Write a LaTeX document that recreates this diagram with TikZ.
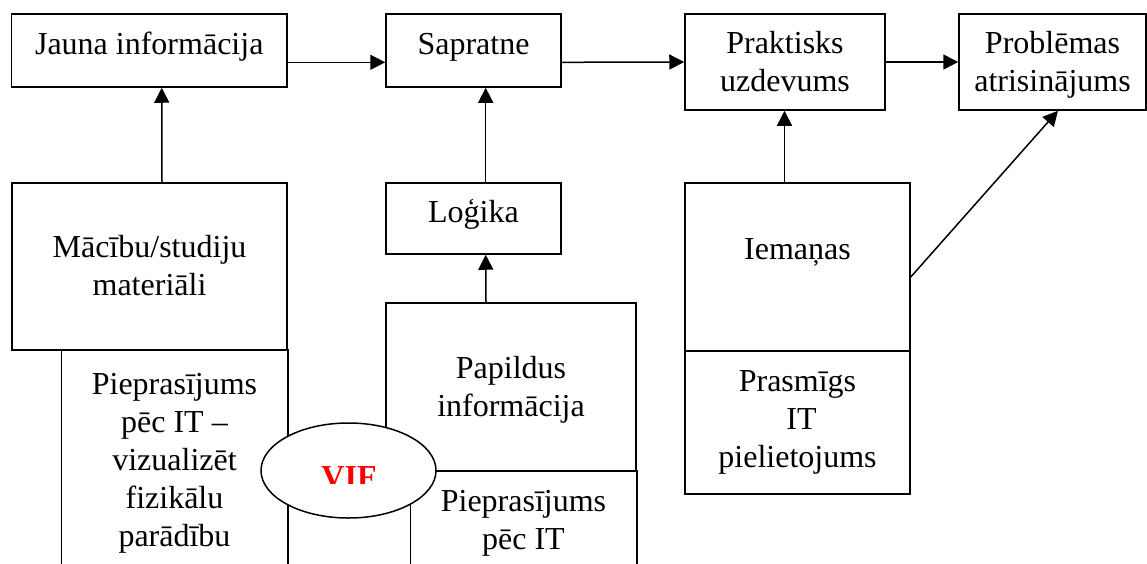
\documentclass[tikz,border=0pt]{standalone}
\usepackage{fontspec}
\setmainfont{Liberation Serif}
\usetikzlibrary{arrows.meta,shapes.geometric}
% invisible struts that fix the first line's height and the last line's depth
\newcommand\linetop{\rule{0pt}{30pt}}
\newcommand\linebot{\rule[-9.4pt]{0pt}{9.4pt}}
\begin{document}
\begin{tikzpicture}[x=1pt,y=-1pt,
  box/.style={draw, line width=1.5pt, inner sep=0pt, align=center,
              font=\fontsize{32}{38}\selectfont},
  openbox/.style={box, draw=none},
  oneline/.style={text height=22pt, text depth=14pt},
  edge/.style={line width=1.5pt},
  arr/.style={line width=1.5pt, -{Triangle[length=15pt,width=15pt]}},
  oval/.style={ellipse, draw, fill=white, line width=1.5pt, inner sep=0pt},
  tag/.style={inner sep=0pt, text=red, font=\fontsize{32}{38}\selectfont\bfseries}]

  \fill[white] (0,0) rectangle (1147,563);
  \useasboundingbox (0,0) rectangle (1147,563);

  % top row
  \node[box, oneline, minimum width=275.5pt, minimum height=73pt] (jauna) at (149.25,50.5) {Jauna informācija};
  \node[box, oneline, minimum width=175pt, minimum height=73pt] (sapr) at (473.5,50.5) {Sapratne};
  \node[box, minimum width=200pt, minimum height=96pt] (prakt) at (785,62) {\linetop Praktisks\\uzdevums\linebot};
  \node[box, minimum width=187pt, minimum height=96pt] (probl) at (1052.5,62) {\linetop Problēmas\\atrisinājums\linebot};

  % left column
  \node[box, minimum width=275pt, minimum height=167pt] (macibu) at (149.5,266.5) {\linetop Mācību/studiju\\materiāli\linebot};
  \node[openbox, minimum width=225pt, minimum height=227pt] (piepA) at (174.5,463.5)
    {Pieprasījums\\pēc IT –\\vizualizēt\\fizikālu\\parādību};

  % middle column
  \node[box, oneline, minimum width=175pt, minimum height=71pt] (logika) at (473.5,218.5) {Loģika};
  \node[box, minimum width=250pt, minimum height=168pt] (papild) at (511,387) {\linetop Papildus\\informācija\linebot};
  \node[openbox, minimum width=225pt, minimum height=105pt] (piepB) at (523.5,523.5) {Pieprasījums\\pēc IT};

  % right column
  \node[box, text height=22pt, text depth=38pt, minimum width=225pt, minimum height=168pt] (iem) at (797.5,267) {Iemaņas};
  \node[box, minimum width=225pt, minimum height=143pt] (prasm) at (797.5,422.5) {Prasmīgs\\\ IT\\pielietojums};

  % open-bottom boxes
  \draw[edge] (piepA.north west) -- (piepA.south west)
              (piepA.north east) -- (piepA.south east);
  \draw[edge] (piepB.north west) -- (piepB.south west)
              (piepB.north east) -- (piepB.south east);

  % oval over the two columns
  \node[oval, minimum width=175pt, minimum height=95pt] (vif) at (348.5,470.5) {};
  \begin{scope}
    \clip (300,440) rectangle (400,483.5);
    \node[tag, anchor=base] (viftext) at (349,487) {VIF};
  \end{scope}

  % connectors
  \draw[arr] ([yshift=-11.8pt]jauna.east) -- ([yshift=-11.8pt]sapr.west);
  \draw[arr] ([yshift=-11.8pt]sapr.east) -- (prakt.west);
  \draw[arr] (prakt.east) -- (probl.west);
  \draw[arr] ([xshift=12.5pt]macibu.north) -- ([xshift=12.5pt]jauna.south);
  \draw[arr] ([xshift=12.2pt]logika.north) -- ([xshift=12.2pt]sapr.south);
  \draw[arr] ([xshift=-25pt]papild.north) -- ([xshift=12.2pt]logika.south);
  \draw[arr] ([xshift=-13pt]iem.north) -- ([xshift=-0.5pt]prakt.south);
  \draw[arr] ([yshift=-10pt]iem.east) -- ([xshift=5.5pt]probl.south);
\end{tikzpicture}
\end{document}
